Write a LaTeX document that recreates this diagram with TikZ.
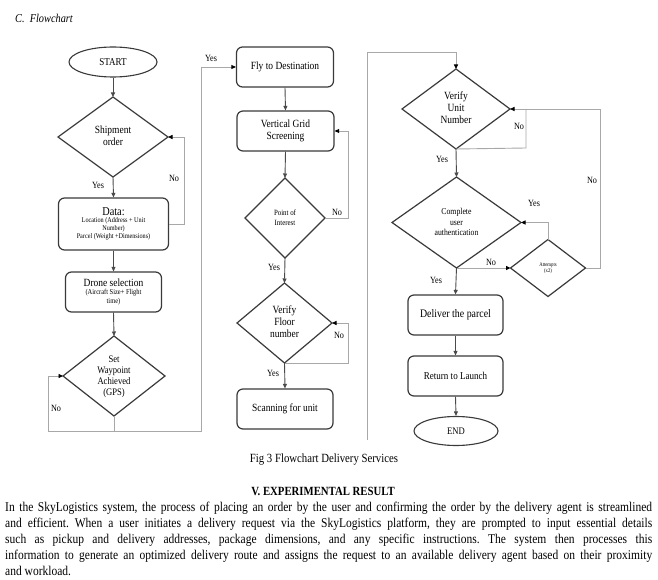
\documentclass[tikz,border=0pt]{standalone}
\usepackage{fontspec}
\setmainfont{Liberation Serif}[FakeStretch=0.86]
\usetikzlibrary{shapes.geometric,arrows.meta}
\definecolor{boxc}{HTML}{3A3A3A}
\definecolor{loopc}{HTML}{A8A8A8}
\definecolor{arrc}{HTML}{4A4A4A}
\newcommand{\ml}[1]{\begin{tabular}{@{}c@{}}#1\end{tabular}}
\newcommand{\dtxt}[1]{\makebox[0pt]{\smash{\raisebox{-0.3em}{\ml{#1}}}}}
\newcommand{\fs}[2]{\fontsize{#1}{#2}\selectfont}
\frenchspacing
\begin{document}
\begin{tikzpicture}[x=1pt,y=-1pt,
  box/.style={draw=boxc, line width=1.2pt, rounded corners=6pt, minimum width=97pt, minimum height=40pt, inner sep=0pt, align=center},
  dia/.style={draw=boxc, line width=1.2pt, diamond, inner sep=0pt, outer sep=0pt},
  term/.style={draw=boxc, line width=1.1pt, ellipse, inner sep=0pt},
  arr/.style={draw=arrc, line width=0.9pt, -{Triangle[length=4.5pt,width=4pt]}},
  larr/.style={draw=loopc, line width=0.9pt, -{Triangle[length=4.5pt,width=4pt,color=black]}},
  lp/.style={draw=loopc, line width=0.9pt},
  lbl/.style={font=\fs{9.5}{10}, inner sep=0pt}
]
\useasboundingbox (0,0) rectangle (658,580);
\fill[white] (0,0) rectangle (658,580);

\node[anchor=west, font=\fs{12}{14}\itshape, inner sep=0pt] (title) at (15,18) {C.\ \ Flowchart};

% left column
\node[term, minimum width=88pt, minimum height=30pt, font=\fs{10.5}{11}] (start) at (113,62) {START};
\node[dia, minimum width=110pt, minimum height=80pt, font=\fs{11}{12}] (ship) at (113,137) {\dtxt{Shipment\\order}};
\node[box, minimum width=110pt, minimum height=52pt, font=\fs{7.2}{8}] (data) at (113.5,224)
  {\renewcommand\arraystretch{0.95}\ml{\fs{12}{13}Data:\\Location (Address + Unit\\Number)\\Parcel (Weight +Dimensions)}};
\node[box, minimum width=96pt, font=\fs{7.5}{8.5}] (drone) at (113.5,292)
  {\ml{\fs{11}{12}Drone selection\\(Aircraft Size+ Flight\\time)}};
\node[dia, minimum width=102pt, minimum height=80pt, font=\fs{10}{11}] (way) at (114,376) {\dtxt{Set\\Waypoint\\Achieved\\(GPS)}};

% middle column
\node[box, font=\fs{11}{12}] (fly) at (285,67) {Fly to Destination};
\node[box, font=\fs{11}{12}] (vgs) at (285.5,131) {\ml{Vertical Grid\\Screening}};
\node[dia, minimum width=80pt, minimum height=80pt, font=\fs{8}{9.5}] (poi) at (285,218) {\dtxt{Point of\\Interest}};
\node[dia, minimum width=95pt, minimum height=80pt, font=\fs{11}{12}] (floor) at (284.5,323) {\dtxt{Verify\\Floor\\number}};
\node[box, minimum width=96pt, font=\fs{11}{12}] (scan) at (285,409) {Scanning for unit};

% right column
\node[dia, minimum width=108pt, minimum height=80pt, font=\fs{11}{12}] (vun) at (456,109) {\dtxt{Verify\\Unit\\Number}};
\node[dia, minimum width=129pt, minimum height=91pt, font=\fs{9}{10.5}] (cua) at (456.5,222.5) {\dtxt{Complete\\user\\authentication}};
\node[dia, minimum width=75pt, minimum height=57pt, font=\fs{5.5}{6.5}] (att) at (548,268) {\dtxt{Attempts\\(x2)}};
\node[box, minimum width=95pt, font=\fs{11.5}{12}] (deliver) at (455.5,315) {Deliver the parcel};
\node[box, minimum width=95pt, font=\fs{10.5}{12}] (ret) at (455.5,376) {Return to Launch};
\node[term, minimum width=84pt, minimum height=29pt, font=\fs{10}{11}] (end) at (456,431) {END};

% connectors left
\draw[arr] (start) -- (ship);
\draw[arr] (ship.south) -- (data.north);
\node[lbl] (y1) at (98,185) {Yes};
\draw[larr] (data.east) -- (184,224) -- (184,137) -- (ship.east);
\node[lbl] (n1) at (174,178) {No};
\draw[arr] (data.south) -- (drone.north);
\draw[arr] (drone.south) -- (way.north);
\coordinate (wb) at (114,431);
\draw[larr] (way.south) -- (wb) -- (48,431) -- (48,376) -- (way.west);
\node[lbl] (n2) at (56,408) {No};
\draw[larr] (wb) -- (201,431) -- (201,67) -- (fly.west);
\node[lbl] (y2) at (211,58) {Yes};

% connectors middle
\draw[arr] (fly.south) -- (vgs.north);
\draw[arr] (vgs.south) -- (poi.north);
\draw[larr] (poi.east) -- (348,218) -- (348,131) -- (vgs.east);
\node[lbl] (n3) at (337,212) {No};
\draw[arr] (poi.south) -- (floor.north);
\node[lbl] (y3) at (274,267) {Yes};
\draw[larr] (floor.south) -- (348,363) -- (348,323) -- (floor.east);
\node[lbl] (n4) at (339,335) {No};
\draw[arr] (floor.south) -- (scan.north);
\node[lbl] (y4) at (273,373) {Yes};
\coordinate (cfree) at (367,440);
\draw[larr] (cfree) -- (367,52) -- (456,52) -- (vun.north);

% connectors right
\draw[arr] (vun.south) -- (cua.north);
\node[lbl] (y5) at (442,159) {Yes};
\draw[lp] (vun.south) -- (526,148) -- (526,109);
\node[lbl] (n5) at (519,126) {No};
\draw[larr] (att.east) -- (600,268) -- (600,109) -- (vun.east);
\node[lbl] (n6) at (592,180) {No};
\draw[larr] (cua.south) -- (att.west);
\node[lbl] (n7) at (491,262) {No};
\draw[larr] (att.north) -- (548,222.5) -- (cua.east);
\node[lbl] (y6) at (534,203) {Yes};
\draw[arr] (cua.south) -- (deliver.north);
\node[lbl] (y7) at (436,280) {Yes};
\draw[arr] (deliver.south) -- (ret.north);
\draw[arr] (ret.south) -- (end.north);

% caption and text
\node[font=\fs{12.5}{14}, inner sep=0pt] (cap) at (324,460) {Fig 3 Flowchart Delivery Services};
\node[font=\fs{12.5}{14}\bfseries, inner sep=0pt] (head) at (323,491) {V. EXPERIMENTAL RESULT};
\node[anchor=north west, inner sep=0pt, text width=647pt, align=justify, font=\fs{13.4}{16}] (para) at (5,501.5)
{In the SkyLogistics system, the process of placing an order by the user and confirming the order by the delivery agent is streamlined\linebreak
and efficient. When a user initiates a delivery request via the SkyLogistics platform, they are prompted to input essential details\linebreak
such as pickup and delivery addresses, package dimensions, and any specific instructions. The system then processes this\linebreak
information to generate an optimized delivery route and assigns the request to an available delivery agent based on their proximity\linebreak
and workload.};
\end{tikzpicture}
\end{document}
